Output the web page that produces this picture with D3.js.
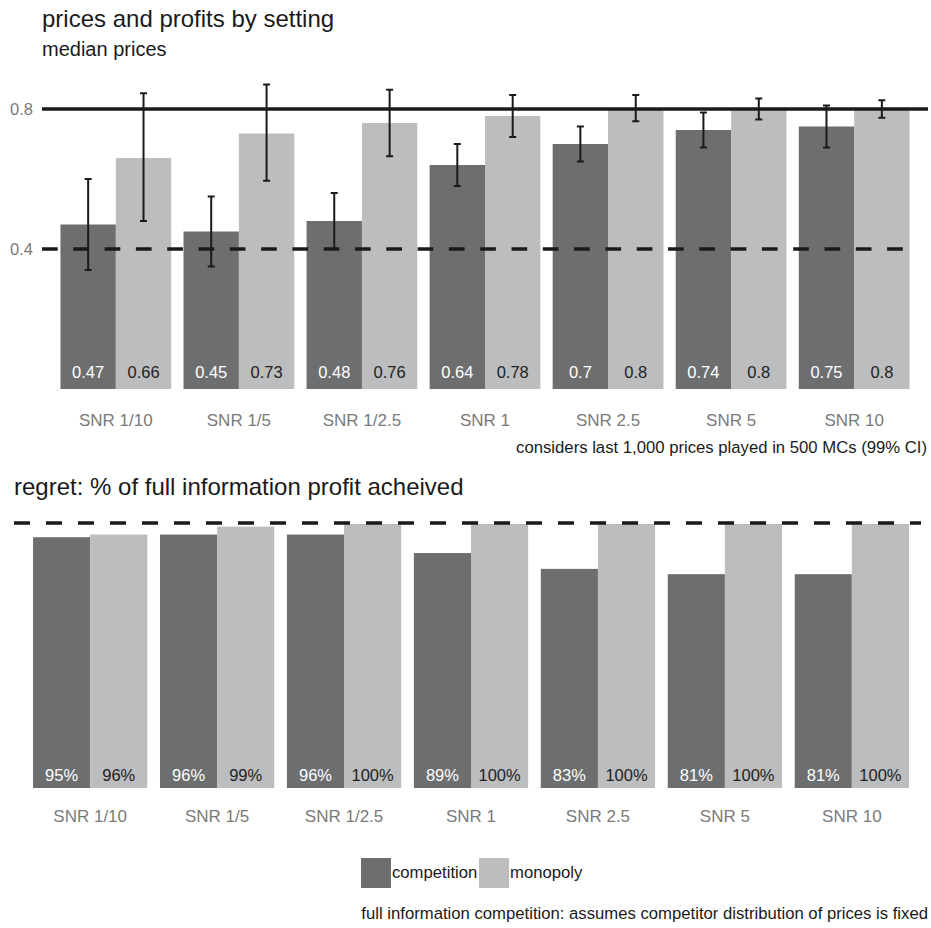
<!DOCTYPE html>
<html>
<head>
<meta charset="utf-8">
<script src="https://cdn.jsdelivr.net/npm/d3@7"></script>
<style>
  html, body { margin: 0; padding: 0; background: #fff; }
  svg { display: block; font-family: "Liberation Sans", Arial, Helvetica, sans-serif; }
</style>
</head>
<body>
<svg id="chart" width="931" height="928"></svg>
<script>
// Settings (signal-to-noise ratios) on the x axis
const settings = ["SNR 1/10", "SNR 1/5", "SNR 1/2.5", "SNR 1", "SNR 2.5", "SNR 5", "SNR 10"];
const seriesNames = ["competition", "monopoly"];

// Median prices and 99% confidence bounds
const compPrice = [0.47, 0.45, 0.48, 0.64, 0.70, 0.74, 0.75];
const monoPrice = [0.66, 0.73, 0.76, 0.78, 0.80, 0.80, 0.80];
const compLow   = [0.34, 0.35, 0.40, 0.58, 0.65, 0.69, 0.69];
const compHigh  = [0.60, 0.55, 0.56, 0.70, 0.75, 0.79, 0.81];
const monoLow   = [0.48, 0.595, 0.665, 0.72, 0.765, 0.77, 0.775];
const monoHigh  = [0.845, 0.87, 0.855, 0.84, 0.84, 0.83, 0.825];

// Share of full-information profit achieved
const compProfit = [0.95, 0.96, 0.96, 0.89, 0.83, 0.81, 0.81];
const monoProfit = [0.96, 0.99, 1.00, 1.00, 1.00, 1.00, 1.00];

// Axis ticks and reference lines
const priceTicks = [0.4, 0.8];
const priceRefSolid = 0.8;
const priceRefDashed = 0.4;
const profitRef = 1.0;

const colors = { competition: "#6d6e70", monopoly: "#bcbdbf" };
const ink = "#1a1a1a";
const axisGray = "#7a7a7a";
const bodySize = 16.7;
const tickSize = 17;

const svg = d3.select("#chart");

// ---------- titles ----------
svg.append("text").attr("x", 42).attr("y", 27)
  .attr("font-size", 24).attr("fill", ink).text("prices and profits by setting");
svg.append("text").attr("x", 42).attr("y", 56)
  .attr("font-size", 20).attr("fill", ink).text("median prices");

// ---------- top panel: prices ----------
const priceRows = settings.map((s, i) => ({
  setting: s,
  bars: [
    { key: "competition", value: compPrice[i], lo: compLow[i], hi: compHigh[i] },
    { key: "monopoly", value: monoPrice[i], lo: monoLow[i], hi: monoHigh[i] }
  ]
}));

const x1 = d3.scaleBand().domain(settings).range([42, 928]).paddingInner(0.1).paddingOuter(0.15);
const x1Inner = d3.scaleBand().domain(seriesNames).range([0, x1.bandwidth()]);
const y1 = d3.scaleLinear().domain([0, 0.8]).range([389, 109]);

const g1 = svg.append("g");
const groups1 = g1.selectAll("g.grp").data(priceRows).join("g")
  .attr("class", "grp")
  .attr("transform", d => `translate(${x1(d.setting)},0)`);

groups1.selectAll("rect").data(d => d.bars).join("rect")
  .attr("x", d => x1Inner(d.key))
  .attr("width", x1Inner.bandwidth())
  .attr("y", d => y1(d.value))
  .attr("height", d => y1(0) - y1(d.value))
  .attr("fill", d => colors[d.key]);

groups1.selectAll("text.val").data(d => d.bars).join("text")
  .attr("class", "val")
  .attr("x", d => x1Inner(d.key) + x1Inner.bandwidth() / 2)
  .attr("y", y1(0) - 11)
  .attr("text-anchor", "middle")
  .attr("font-size", 16.5)
  .attr("fill", d => d.key === "competition" ? "#ffffff" : "#222222")
  .text(d => String(d.value));

// reference lines
g1.append("line")
  .attr("x1", 42).attr("x2", 928)
  .attr("y1", y1(priceRefSolid)).attr("y2", y1(priceRefSolid))
  .attr("stroke", ink).attr("stroke-width", 3.6);
g1.append("line")
  .attr("x1", 42).attr("x2", 918)
  .attr("y1", y1(priceRefDashed)).attr("y2", y1(priceRefDashed))
  .attr("stroke", ink).attr("stroke-width", 3.4)
  .attr("stroke-dasharray", "15.7,15.6");

// error bars
const cap = 3.5;
const eb = groups1.selectAll("g.err").data(d => d.bars).join("g").attr("class", "err")
  .attr("transform", d => `translate(${x1Inner(d.key) + x1Inner.bandwidth() / 2},0)`)
  .attr("stroke", ink).attr("stroke-width", 2);
eb.append("line").attr("x1", 0).attr("x2", 0).attr("y1", d => y1(d.lo)).attr("y2", d => y1(d.hi));
eb.append("line").attr("x1", -cap).attr("x2", cap).attr("y1", d => y1(d.lo)).attr("y2", d => y1(d.lo));
eb.append("line").attr("x1", -cap).attr("x2", cap).attr("y1", d => y1(d.hi)).attr("y2", d => y1(d.hi));

// axes
const yAxis1 = d3.axisLeft(y1).tickValues(priceTicks).tickSize(0).tickPadding(9)
  .tickFormat(d3.format(".1f"));
const ya = svg.append("g").attr("transform", "translate(42,0)").call(yAxis1);
ya.select(".domain").remove();
ya.selectAll("text").attr("font-size", 16.5).attr("fill", axisGray)
  .attr("font-family", "Liberation Sans, Arial, sans-serif");

const xAxis1 = d3.axisBottom(x1).tickSize(0).tickPadding(0);
const xa1 = svg.append("g").attr("transform", "translate(0,414)").call(xAxis1);
xa1.select(".domain").remove();
xa1.selectAll("text").attr("font-size", tickSize).attr("fill", axisGray)
  .attr("font-family", "Liberation Sans, Arial, sans-serif").attr("dy", "0.7em");

svg.append("text").attr("x", 927).attr("y", 453).attr("text-anchor", "end")
  .attr("font-size", bodySize).attr("fill", ink)
  .text("considers last 1,000 prices played in 500 MCs (99% CI)");

// ---------- bottom panel: profit ----------
svg.append("text").attr("x", 14).attr("y", 495)
  .attr("font-size", 24).attr("fill", ink).text("regret: % of full information profit acheived");

const profitRows = settings.map((s, i) => ({
  setting: s,
  bars: [
    { key: "competition", value: compProfit[i] },
    { key: "monopoly", value: monoProfit[i] }
  ]
}));

const x2 = d3.scaleBand().domain(settings).range([14, 928]).paddingInner(0.1).paddingOuter(0.15);
const x2Inner = d3.scaleBand().domain(seriesNames).range([0, x2.bandwidth()]);
const y2 = d3.scaleLinear().domain([0, 1]).range([788, 524]);

const g2 = svg.append("g");
const groups2 = g2.selectAll("g.grp").data(profitRows).join("g")
  .attr("class", "grp")
  .attr("transform", d => `translate(${x2(d.setting)},0)`);

groups2.selectAll("rect").data(d => d.bars).join("rect")
  .attr("x", d => x2Inner(d.key))
  .attr("width", x2Inner.bandwidth())
  .attr("y", d => y2(d.value))
  .attr("height", d => y2(0) - y2(d.value))
  .attr("fill", d => colors[d.key]);

groups2.selectAll("text.val").data(d => d.bars).join("text")
  .attr("class", "val")
  .attr("x", d => x2Inner(d.key) + x2Inner.bandwidth() / 2)
  .attr("y", y2(0) - 7)
  .attr("text-anchor", "middle")
  .attr("font-size", 16.5)
  .attr("fill", d => d.key === "competition" ? "#ffffff" : "#222222")
  .text(d => d3.format(".0%")(d.value));

g2.append("line")
  .attr("x1", 14).attr("x2", 921)
  .attr("y1", y2(profitRef) - 1).attr("y2", y2(profitRef) - 1)
  .attr("stroke", ink).attr("stroke-width", 3.4)
  .attr("stroke-dasharray", "16,16");

const xAxis2 = d3.axisBottom(x2).tickSize(0).tickPadding(0);
const xa2 = svg.append("g").attr("transform", "translate(0,810)").call(xAxis2);
xa2.select(".domain").remove();
xa2.selectAll("text").attr("font-size", tickSize).attr("fill", axisGray)
  .attr("font-family", "Liberation Sans, Arial, sans-serif").attr("dy", "0.7em");

// ---------- legend ----------
const legend = svg.append("g").attr("transform", "translate(361,858)");
const legendItems = [
  { key: "competition", x: 0 },
  { key: "monopoly", x: 118 }
];
const li = legend.selectAll("g").data(legendItems).join("g")
  .attr("transform", d => `translate(${d.x},0)`);
li.append("rect").attr("width", 30).attr("height", 30).attr("fill", d => colors[d.key]);
li.append("text").attr("x", 31).attr("y", 20).attr("font-size", bodySize).attr("fill", ink)
  .text(d => d.key);

svg.append("text").attr("x", 928).attr("y", 919).attr("text-anchor", "end")
  .attr("font-size", bodySize).attr("fill", ink)
  .text("full information competition: assumes competitor distribution of prices is fixed");
</script>
</body>
</html>
